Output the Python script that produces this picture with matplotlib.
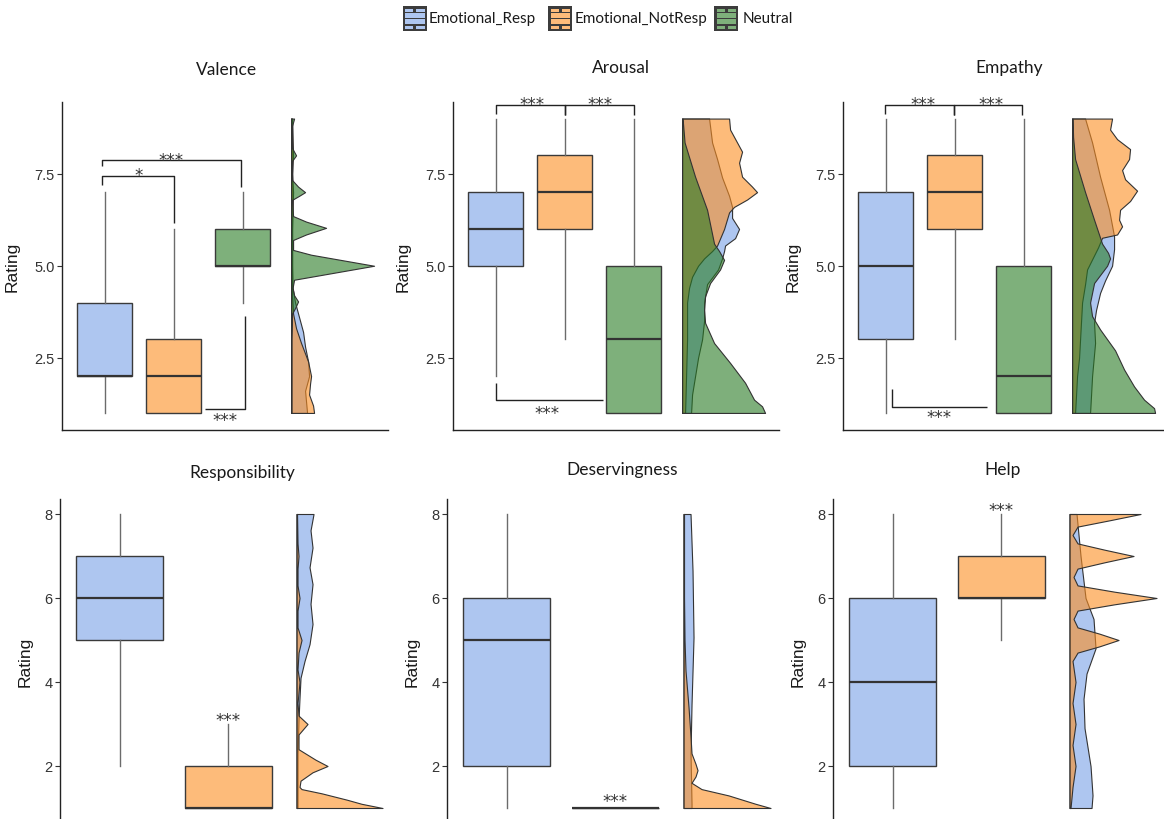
"""
Six-panel rating figure: one boxplot per condition plus a half-density
ridge on the right of each panel. Writes out.png (1164x820).
"""

import matplotlib

matplotlib.use("Agg")
import matplotlib.pyplot as plt
from matplotlib.colors import to_rgba
from matplotlib.patches import Rectangle

W_PX, H_PX = 1164, 820

GROUPS = ["Emotional_Resp", "Emotional_NotResp", "Neutral"]
DENS_COLOR = {"Emotional_Resp": "#78a0e6", "Emotional_NotResp": "#fc8e21", "Neutral": "#287b23"}
BOX_FILL = {"Emotional_Resp": "#aec6f0", "Emotional_NotResp": "#fdbb7a", "Neutral": "#7eb07b"}

# box stats per group: (whisker low, q1, median, q3, whisker high)
valence_box = [(1, 2, 2, 4, 7), (1, 1, 2, 3, 6), (4, 5, 5, 6, 7)]
arousal_box = [(2, 5, 6, 7, 9), (3, 6, 7, 8, 9), (1, 1, 3, 5, 9)]
empathy_box = [(1, 3, 5, 7, 9), (3, 6, 7, 8, 9), (1, 1, 2, 5, 9)]
responsibility_box = [(2, 5, 6, 7, 8), (1, 1, 1, 2, 3)]
deservingness_box = [(1, 2, 5, 6, 8), (1, 1, 1, 1, 1)]
help_box = [(1, 2, 4, 6, 8), (5, 6, 6, 7, 8)]

# densities: rating levels and density (arbitrary units)
valence_dens = {
    "Emotional_Resp": ([1.0, 1.3, 1.6, 2.0, 2.4, 2.8, 3.2, 3.6, 4.0, 4.4, 5.0, 6.0, 7.0, 8.0, 9.0],
                       [16, 15, 14, 18, 17, 14, 12, 8, 4, 1.5, 1, 1, 1, 1, 0.5]),
    "Emotional_NotResp": ([1.0, 1.2, 1.5, 1.8, 2.0, 2.4, 2.9, 3.3, 3.7, 4.2, 5.0, 6.0, 7.0, 7.5, 8.0, 9.0],
                          [23, 22, 18, 19, 20, 17, 10, 5, 2, 1, 1, 1, 2, 1, 2, 1]),
    "Neutral": ([1.0, 3.0, 3.7, 3.85, 4.03, 4.2, 4.4, 4.62, 5.0, 5.3, 5.43, 5.7, 5.85, 6.03, 6.2,
                 6.35, 6.79, 6.9, 7.0, 7.15, 7.33, 7.85, 8.0, 8.2, 8.8, 9.0],
                [0.3, 0.3, 1, 4, 7, 3, 1.5, 3, 83, 20, 2, 2, 15, 35, 15,
                 2, 1, 8, 14, 7, 1, 1, 5, 1, 1, 3]),
}
arousal_dens = {
    "Emotional_Resp": ([1.0, 1.5, 2.0, 2.5, 3.0, 3.5, 4.0, 4.5, 4.9, 5.2, 5.4, 5.55, 5.75, 6.0,
                        6.3, 6.6, 6.9, 7.4, 7.9, 8.35, 9.0],
                       [9, 10, 13, 16, 20, 22, 22, 25, 36, 40, 42, 43, 53, 57,
                        50, 50, 47, 40, 35, 30, 27]),
    "Emotional_NotResp": ([1.0, 2.0, 3.0, 4.0, 4.4, 4.7, 5.0, 5.2, 5.4, 5.55, 6.0, 6.45, 6.6, 6.8,
                           7.0, 7.15, 7.42, 7.8, 8.1, 8.35, 8.7, 9.0],
                          [3, 4, 5, 5, 7, 10, 16, 22, 30, 35, 42, 47, 52, 65,
                           75, 70, 60, 57, 60, 55, 48, 47]),
    "Neutral": ([1.0, 1.18, 1.36, 1.82, 2.36, 2.9, 3.45, 3.8, 4.17, 4.53, 4.9, 5.16, 5.4, 5.6,
                 6.52, 7.42, 8.35, 9.0],
                [83, 80, 72, 63, 48, 32, 23, 22, 23, 28, 38, 42, 37, 32,
                 25, 13, 2.5, 0.5]),
}
empathy_dens = {
    "Emotional_Resp": ([1.0, 1.5, 2.0, 2.9, 3.45, 3.8, 4.26, 4.6, 5.0, 5.45, 5.8, 6.52, 7.42, 8.35, 9.0],
                       [18, 19, 20, 23, 22, 24, 28, 33, 40, 42, 42, 37, 28, 20, 13]),
    "Emotional_NotResp": ([1.0, 1.5, 2.0, 2.5, 3.0, 3.5, 4.0, 4.5, 4.9, 5.5, 5.76, 5.85, 6.07, 6.25,
                           6.52, 6.76, 7.04, 7.35, 7.6, 7.9, 8.17, 8.44, 8.7, 9.0],
                          [3, 4, 5, 7, 8, 9, 10, 13, 15, 26, 30, 45, 50, 47,
                           48, 58, 65, 53, 50, 57, 58, 45, 38, 40]),
    "Neutral": ([1.0, 1.13, 1.36, 1.72, 2.18, 2.7, 3.27, 3.63, 4.0, 4.53, 5.0, 5.2, 5.35, 5.6,
                 6.25, 7.0, 7.9, 8.5, 9.0],
                [83, 82, 72, 62, 52, 43, 28, 20, 18, 22, 35, 38, 36, 30,
                 22, 13, 3, 1, 0.5]),
}
responsibility_dens = {
    "Emotional_Resp": ([1.0, 2.3, 3.1, 3.63, 4.1, 4.5, 4.9, 5.38, 5.86, 6.33, 6.73, 7.2, 7.61, 8.0],
                       [1, 1, 2, 3, 4, 8, 13, 16, 14, 16, 13, 16, 14, 17]),
    "Emotional_NotResp": ([1.0, 1.1, 1.2, 1.35, 1.45, 1.5, 1.65, 1.85, 2.0, 2.15, 2.4, 2.75, 3.0, 3.2,
                           3.5, 4.0, 4.3, 4.7, 5.0, 5.3, 5.7, 6.0, 6.3, 6.7, 7.0, 7.3, 8.0],
                          [86, 65, 50, 25, 5, 3, 4, 16, 31, 19, 2, 2, 11, 2,
                           1, 3, 1, 2, 5, 1, 1, 3, 1, 1, 2, 1, 0.5]),
}
deservingness_dens = {
    "Emotional_Resp": ([1.0, 1.1, 2.3, 3.47, 5.06, 6.65, 8.0],
                       [8, 8, 7, 8, 10, 9, 7]),
    "Emotional_NotResp": ([1.0, 1.1, 1.3, 1.45, 1.6, 1.75, 1.9, 2.05, 2.3, 2.7, 3.4, 4.27, 5.0, 6.0, 7.0, 8.0],
                          [87, 72, 45, 18, 8, 12, 14, 12, 8, 7, 5, 2, 1, 0.5, 0.5, 0.5]),
}
help_dens = {
    "Emotional_Resp": ([1.0, 1.3, 2.0, 2.9, 3.6, 4.2, 4.8, 5.5, 6.0, 7.0, 8.0],
                       [22, 23, 21, 15, 14, 17, 26, 24, 16, 11, 7]),
    "Emotional_NotResp": ([1.0, 1.5, 2.0, 2.5, 3.0, 3.5, 4.0, 4.5, 4.7, 4.85, 5.0, 5.15, 5.3, 5.5,
                           5.7, 5.85, 6.0, 6.15, 6.3, 6.5, 6.7, 6.85, 7.0, 7.15, 7.3, 7.5, 7.7, 7.85, 8.0],
                          [1, 3, 6, 3, 6, 3, 6, 3, 8, 30, 49, 30, 8, 4,
                           8, 45, 87, 45, 8, 4, 8, 35, 64, 35, 8, 3, 8, 40, 71]),
}

# significance brackets: (x left, x right, line y, left tip y, right tip y, label, label x, label y)
valence_sig = [
    (0.96, 2.0, 7.45, 7.2, 6.15, "*", 1.49, 7.6),
    (0.96, 2.97, 7.87, 7.7, 7.15, "***", 1.96, 8.0),
    (2.45, 3.03, 1.11, 1.11, 3.63, "***", 2.74, 0.95),
]
arousal_sig = [
    (1.0, 2.0, 9.36, 9.13, 9.1, "***", 1.53, 9.52),
    (2.0, 3.0, 9.36, 9.1, 9.1, "***", 2.51, 9.52),
    (1.0, 2.56, 1.34, 1.82, 1.34, "***", 1.74, 1.14),
]
empathy_sig = [
    (0.99, 1.99, 9.36, 9.13, 9.1, "***", 1.54, 9.52),
    (1.99, 2.98, 9.36, 9.1, 9.1, "***", 2.52, 9.52),
    (1.09, 2.46, 1.17, 1.64, 1.17, "***", 1.77, 1.03),
]
# lone stars above a single group: (label, x, y)
responsibility_star = [("***", 2.0, 3.2)]
deservingness_star = [("***", 2.0, 1.29)]
help_star = [("***", 2.0, 8.2)]


def fig_rect(left, top, width, height):
    return [left / W_PX, 1 - (top + height) / H_PX, width / W_PX, height / H_PX]


def draw_panel(ax, boxes, dens, dens_base, dens_scale, ylim, yticks, ylabels, xlim, label_x, show_xaxis):
    groups = GROUPS[:len(boxes)]
    for g in groups:
        ys, ds = dens[g]
        ax.fill_betweenx(ys, dens_base, [dens_base + d * dens_scale for d in ds],
                         facecolor=to_rgba(DENS_COLOR[g], 0.6), edgecolor="#333333",
                         linewidth=0.8, zorder=2)

    stats = [dict(whislo=b[0], q1=b[1], med=b[2], q3=b[3], whishi=b[4], fliers=[]) for b in boxes]
    bp = ax.bxp(stats, positions=range(1, len(boxes) + 1), widths=0.8, patch_artist=True,
                showcaps=False, showfliers=False,
                boxprops=dict(edgecolor="#3a3a3a", linewidth=1.0),
                medianprops=dict(color="#333333", linewidth=1.6),
                whiskerprops=dict(color="#6b6b6b", linewidth=1.0))
    for patch, g in zip(bp["boxes"], groups):
        patch.set_facecolor(BOX_FILL[g])

    ax.set_xlim(*xlim)
    ax.set_ylim(*ylim)
    ax.set_yticks(yticks)
    ax.set_yticklabels(ylabels, family="Liberation Sans", fontsize=10.5, color="#333333")
    ax.set_xticks([])
    ax.tick_params(axis="y", length=3.5, width=0.8, color="#333333", pad=2)
    for side in ("top", "right"):
        ax.spines[side].set_visible(False)
    ax.spines["bottom"].set_visible(show_xaxis)
    for side in ("left", "bottom"):
        ax.spines[side].set_linewidth(1.0)
        ax.spines[side].set_color("#222222")
    ax.set_ylabel("Rating", family="Liberation Sans", fontsize=12.5, color="#1a1a1a")
    ax.yaxis.set_label_coords(label_x, 0.5)


def draw_brackets(ax, sig):
    for xl, xr, yl, tl, tr, label, lx, ly in sig:
        ax.plot([xl, xl, xr, xr], [tl, yl, yl, tr], color="#222222", linewidth=1.0,
                clip_on=False, zorder=3, solid_capstyle="butt")
        draw_stars(ax, [(label, lx, ly)])


def draw_stars(ax, stars):
    for label, x, y in stars:
        ax.annotate(label, (x, y), xytext=(0, -7.0), textcoords="offset points",
                    ha="center", va="baseline", fontsize=12, color="#333333",
                    family="DejaVu Sans", annotation_clip=False, zorder=4)


def main() -> None:
    fig = plt.figure(figsize=(W_PX / 100, H_PX / 100), dpi=100)

    top_h, top_w = 327.5, 326
    bot_h, bot_w = 323.4, 330
    top_kw = dict(dens_base=3.7, dens_scale=1 / 69, ylim=(0.55, 9.45), yticks=[2.5, 5.0, 7.5],
                  ylabels=["2.5", "5.0", "7.5"], xlim=(0.38, 0.38 + top_w / 69), label_x=-0.13,
                  show_xaxis=True)
    bot_kw = dict(dens_base=2.63, dens_scale=1 / 108.5, ylim=(0.65, 8.35), yticks=[2, 4, 6, 8],
                  ylabels=["2", "4", "6", "8"], xlim=(0.45, 0.45 + bot_w / 108.5), label_x=-0.083,
                  show_xaxis=False)

    panels = [
        ("Valence", 62, 103, top_w, top_h, valence_box, valence_dens, valence_sig, None, top_kw, (227, 70)),
        ("Arousal", 453, 103, top_w, top_h, arousal_box, arousal_dens, arousal_sig, None, top_kw, (621, 68)),
        ("Empathy", 843, 103, top_w, top_h, empathy_box, empathy_dens, empathy_sig, None, top_kw, (1009, 68)),
        ("Responsibility", 60, 500.3, bot_w, bot_h, responsibility_box, responsibility_dens, [],
         responsibility_star, bot_kw, (242, 473)),
        ("Deservingness", 447, 500.3, bot_w, bot_h, deservingness_box, deservingness_dens, [],
         deservingness_star, bot_kw, (622, 470)),
        ("Help", 833, 500.3, bot_w, bot_h, help_box, help_dens, [], help_star, bot_kw, (1003, 470)),
    ]

    for title, left, top, w, h, boxes, dens, sig, stars, kw, tpos in panels:
        ax = fig.add_axes(fig_rect(left, top, w, h))
        draw_panel(ax, boxes, dens, **kw)
        draw_brackets(ax, sig)
        if stars:
            draw_stars(ax, stars)
        fig.text(tpos[0] / W_PX, 1 - tpos[1] / H_PX, title, ha="center", va="center",
                 family="Lato", fontsize=12.5, color="#1a1a1a")

    # legend drawn in pixel space across the top
    lax = fig.add_axes([0, 0, 1, 1], zorder=10)
    lax.set_xlim(0, W_PX)
    lax.set_ylim(H_PX, 0)
    lax.axis("off")
    legend_x = [(402.7, 429), (548.3, 575), (714.3, 742.7)]
    for g, (kx, tx) in zip(GROUPS, legend_x):
        ky, kw_, kh = 7.3, 24, 25
        lax.add_patch(Rectangle((kx, ky), kw_, kh, facecolor="#3c3c3c", edgecolor="none"))
        fill = BOX_FILL[g]
        for (dx, dy, ww, hh) in [(2.3, 2.7, 8.3, 2.7), (13.3, 2.7, 8.7, 2.7),
                                 (2.3, 7.0, 19.7, 4.4), (2.3, 12.2, 19.7, 5.5),
                                 (2.3, 19.4, 8.3, 3.0), (13.3, 19.4, 8.7, 3.0)]:
            lax.add_patch(Rectangle((kx + dx, ky + dy), ww, hh, facecolor=fill, edgecolor="none"))
        lax.text(tx, 19.3, g, ha="left", va="center", family="Lato", fontsize=11, color="#1a1a1a")

    fig.savefig("out.png", dpi=100)


if __name__ == "__main__":
    main()
